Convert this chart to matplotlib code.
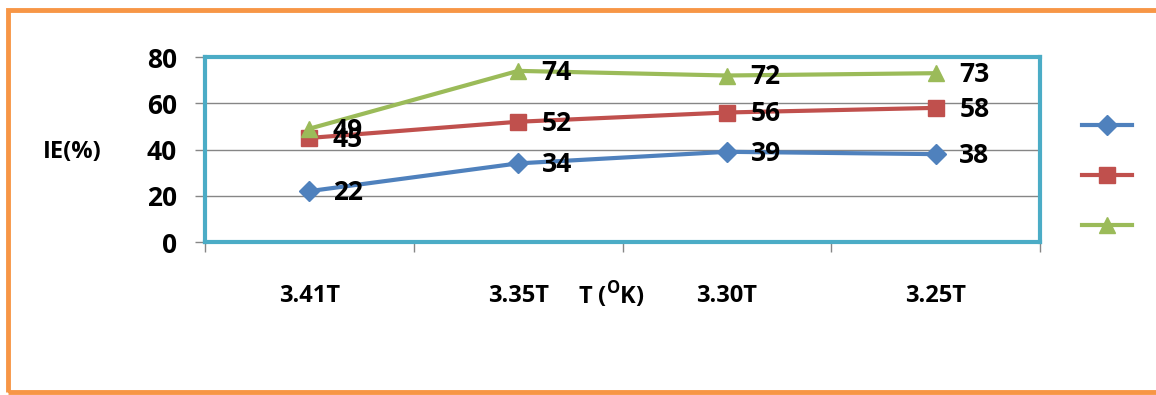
import matplotlib
matplotlib.use('Agg')
import matplotlib.pyplot as plt
from matplotlib.lines import Line2D
from matplotlib.patches import Rectangle

categories = ['3.41T', '3.35T', '3.30T', '3.25T']
series_a = [22, 34, 39, 38]
series_b = [45, 52, 56, 58]
series_c = [49, 74, 72, 73]
yticks = [0, 20, 40, 60, 80]

colors = ['#4F81BD', '#C0504D', '#9BBB59']
markers = ['D', 's', '^']
msizes = [10, 12, 12]

plt.rcParams['font.family'] = ['Open Sans', 'DejaVu Sans']
plt.rcParams['font.weight'] = 'bold'
plt.rcParams['mathtext.fontset'] = 'custom'
plt.rcParams['mathtext.bf'] = 'Open Sans:bold'

fig = plt.figure(figsize=(11.56, 3.95), dpi=100)
ax = fig.add_axes([205/1156, 1-242/395, 835/1156, 185/395])

x = list(range(len(categories)))
for vals, c, m, ms in zip([series_a, series_b, series_c], colors, markers, msizes):
    ax.plot(x, vals, color=c, lw=3, marker=m, markersize=ms, zorder=3)
    for xi, v in zip(x, vals):
        ax.annotate(str(v), (xi, v), xytext=(17, -1), textcoords='offset points',
                    ha='left', va='center', fontsize=19, fontweight='bold', zorder=4)

ax.set_xlim(-0.5, len(categories) - 0.5)
ax.set_ylim(0, 80)
ax.set_yticks(yticks)
ax.set_yticklabels([str(t) for t in yticks], fontsize=19, fontweight='bold')
ax.yaxis.grid(True, color='#868686', lw=1)
ax.set_axisbelow(True)

ax.set_xticks([i - 0.5 for i in range(len(categories) + 1)])
ax.set_xticklabels([])
ax.set_xticks(x, minor=True)
ax.set_xticklabels(categories, minor=True, fontsize=17, fontweight='bold')
ax.tick_params(axis='x', which='minor', length=0, pad=30)
ax.tick_params(axis='x', which='major', length=7, color='#868686', width=1)
ax.tick_params(axis='y', length=7, color='#868686', width=1, pad=13, left=True)

for s in ax.spines.values():
    s.set_color('#4BACC6')
    s.set_linewidth(3)

fig.text(72/1156, 1-152/395, 'IE(%)', fontsize=17, fontweight='bold', ha='center', va='center')
fig.text(611/1156, 1-295/395, r'T ($^{\mathbf{O}}$K)', fontsize=17, fontweight='bold',
         ha='center', va='center')

leg_handles = [Line2D([0], [0], color=c, lw=3, marker=m, markersize=ms)
               for c, m, ms in zip(colors, markers, msizes)]
fig.legend(leg_handles, ['', '', ''], loc='center', bbox_to_anchor=(1107/1156, 1-176/395),
           frameon=False, handlelength=3.6, labelspacing=2.6, handletextpad=0)

fig.add_artist(Rectangle((8/1156, 3/395), 1.02, 1-13/395, transform=fig.transFigure,
                         fill=False, edgecolor='#F79646', lw=3.5))

fig.savefig('out.png', dpi=100)
